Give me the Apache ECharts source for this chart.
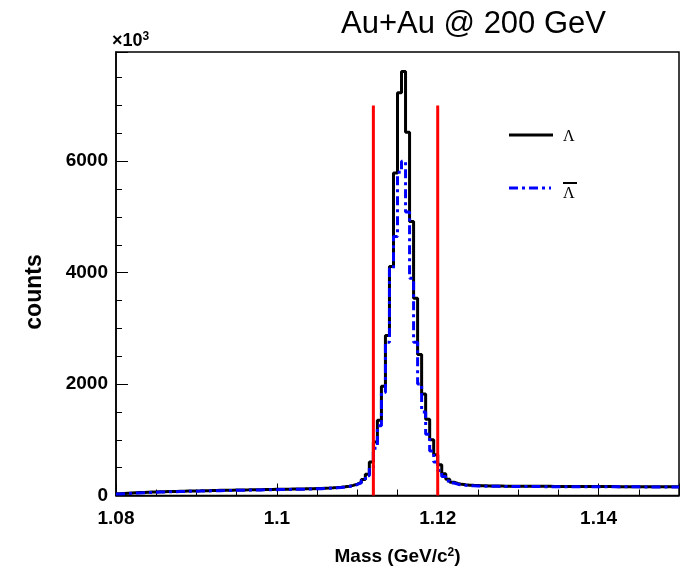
<!DOCTYPE html>
<html><head><meta charset="utf-8">
<script src="https://cdn.jsdelivr.net/npm/echarts@6/dist/echarts.min.js"></script>
<style>html,body{margin:0;padding:0;background:#fff}#c{width:685px;height:571px}</style>
</head><body><div id="c"></div>
<script>
// ---- data ----
const binStart = 1.08;
const binWidth = 0.0005;
const lambdaCounts = [
  30, 35, 40, 44, 48, 52, 55, 58, 61, 64,
  66, 68, 70, 72, 74, 76, 78, 80, 81, 83,
  84, 86, 87, 89, 90, 92, 93, 95, 96, 98,
  99, 100, 101, 103, 104, 105, 106, 107, 108, 110,
  111, 112, 113, 115, 116, 118, 119, 121, 123, 125,
  127, 130, 133, 137, 142, 148, 156, 167, 182, 205,
  235, 285, 380, 600, 960, 1350, 1960, 2870, 4110, 5790,
  7230, 7610, 6520, 4920, 3540, 2530, 1820, 1370, 1000, 730,
  550, 390, 290, 240, 215, 200, 192, 186, 182, 179,
  176, 174, 172, 171, 170, 169, 168, 168, 167, 167,
  166, 166, 165, 165, 165, 164, 164, 164, 163, 163,
  163, 162, 162, 162, 162, 161, 161, 161, 161, 160,
  160, 160, 160, 160, 159, 159, 159, 159, 159, 158,
  158, 158, 158, 158, 158, 157, 157, 157, 157, 157
];
const antiLambdaCounts = [
  26, 31, 36, 40, 44, 47, 50, 53, 56, 59,
  61, 63, 65, 67, 69, 71, 73, 75, 76, 78,
  79, 81, 82, 84, 85, 87, 88, 90, 91, 93,
  94, 95, 96, 98, 99, 100, 101, 102, 103, 105,
  106, 107, 108, 110, 111, 113, 114, 116, 118, 120,
  122, 125, 128, 132, 137, 143, 151, 162, 176, 198,
  226, 270, 355, 500, 850, 1250, 1850, 2750, 4080, 4650,
  5800, 6000, 5090, 3900, 2750, 2000, 1500, 1100, 800, 600,
  450, 340, 262, 225, 203, 190, 183, 178, 174, 171,
  169, 167, 166, 165, 164, 163, 163, 162, 162, 161,
  161, 161, 160, 160, 160, 159, 159, 159, 159, 158,
  158, 158, 158, 157, 157, 157, 157, 157, 156, 156,
  156, 156, 156, 156, 155, 155, 155, 155, 155, 155,
  154, 154, 154, 154, 154, 154, 153, 153, 153, 153
];
const cutPositions = [1.112, 1.120];
const cutHeight = 7000;
const xRange = [1.08, 1.15];
const yRange = [0, 7960];
const xMajor = 0.02, xMinor = 0.005;
const yMajor = 2000, yMinor = 500;

// ---- build step data (left edges + closing right edge) ----
function histData(vals) {
  const d = vals.map((v, i) => [binStart + i * binWidth, v]);
  d.push([binStart + vals.length * binWidth, vals[vals.length - 1]]);
  return d;
}

const FONT = 'Liberation Sans';
const chart = echarts.init(document.getElementById('c'));
const tickStyle = { color: '#000', width: 1 };

chart.setOption({
  animation: false,
  backgroundColor: '#fff',
  title: {
    text: 'Au+Au @ 200 GeV',
    left: 336, top: 4,
    textStyle: { fontFamily: FONT, fontSize: 31, fontWeight: 'normal', color: '#000' }
  },
  grid: { left: 116, right: 6, top: 52, bottom: 72, show: true, borderColor: '#000', borderWidth: 1.5, backgroundColor: 'transparent' },
  xAxis: [{
    type: 'value', min: xRange[0], max: xRange[1], interval: xMajor,
    axisLine: { lineStyle: { color: '#000', width: 1.5 } },
    axisTick: { inside: true, length: 12, lineStyle: tickStyle },
    splitLine: { show: false },
    axisLabel: {
      color: '#000', fontFamily: FONT, fontSize: 19, fontWeight: 'bold', margin: 14,
      formatter: v => (Math.abs(v - xRange[1]) < 1e-9 ? '' : String(+v.toFixed(3)))
    },
    name: 'Mass (GeV/c{sup|2})',
    nameLocation: 'middle', nameGap: 51,
    nameTextStyle: {
      color: '#000', fontFamily: FONT, fontSize: 19, fontWeight: 'bold',
      rich: { sup: { fontFamily: FONT, fontSize: 12, fontWeight: 'bold', verticalAlign: 'top', padding: [0, 0, 8, 0] } }
    }
  }, {
    type: 'value', min: xRange[0], max: xRange[1], interval: xMinor, position: 'bottom',
    axisLine: { show: false },
    axisTick: { inside: true, length: 6, lineStyle: tickStyle },
    splitLine: { show: false },
    axisLabel: { show: false }
  }],
  yAxis: [{
    type: 'value', min: yRange[0], max: yRange[1], interval: yMajor,
    axisLine: { show: true, lineStyle: { color: '#000', width: 1.5 } },
    axisTick: { show: true, inside: true, length: 12, lineStyle: tickStyle },
    splitLine: { show: false },
    axisLabel: {
      color: '#000', fontFamily: FONT, fontSize: 19, fontWeight: 'bold', margin: 8,
      formatter: v => (v % yMajor === 0 ? String(v) : '')
    }
  }, {
    type: 'value', min: yRange[0], max: yRange[1], interval: yMinor, position: 'left',
    axisLine: { show: false },
    axisTick: { show: true, inside: true, length: 6, lineStyle: tickStyle },
    splitLine: { show: false },
    axisLabel: { show: false }
  }],
  graphic: [
    { type: 'text', x: 35, y: 292, rotation: Math.PI / 2, style: {
        text: 'counts', fill: '#000', font: 'bold 23px ' + FONT, align: 'center', verticalAlign: 'middle' } },
    { type: 'text', left: 112, top: 31, style: {
        text: '×10{s|3}', fill: '#000', font: 'bold 18px ' + FONT,
        rich: { s: { font: 'bold 12px ' + FONT, verticalAlign: 'top', padding: [0, 0, 8, 0] } } } },
    { type: 'line', shape: { x1: 509, y1: 135, x2: 553, y2: 135 }, style: { stroke: '#000', lineWidth: 3 } },
    { type: 'text', left: 563, top: 129, style: { text: 'Λ', fill: '#000', font: '16px Liberation Serif' } },
    { type: 'line', shape: { x1: 509, y1: 188, x2: 551, y2: 188 }, style: { stroke: '#0000ff', lineWidth: 3, lineDash: [9, 4, 3, 4] } },
    { type: 'text', left: 563, top: 186, style: { text: 'Λ', fill: '#000', font: '16px Liberation Serif' } },
    { type: 'line', shape: { x1: 563, y1: 183, x2: 577, y2: 183 }, style: { stroke: '#000', lineWidth: 2 } }
  ],
  series: [
    { name: 'Λ', type: 'line', step: 'end', showSymbol: false, symbol: 'none',
      data: histData(lambdaCounts), lineStyle: { color: '#000', width: 3 }, z: 3 },
    { name: 'anti-Λ', type: 'line', step: 'end', showSymbol: false, symbol: 'none',
      data: histData(antiLambdaCounts), lineStyle: { color: '#0000ff', width: 3, type: [9, 4, 3, 4] }, z: 4 },
    ...cutPositions.map(c => ({
      type: 'line', showSymbol: false, symbol: 'none',
      data: [[c, 0], [c, cutHeight]], lineStyle: { color: '#ff0000', width: 3 }, z: 5
    }))
  ]
});
</script></body></html>
